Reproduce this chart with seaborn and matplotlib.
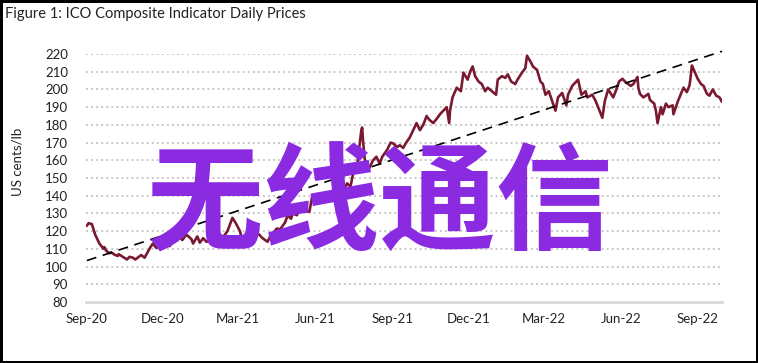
import numpy as np
import pandas as pd
import matplotlib
matplotlib.use("Agg")
import matplotlib.pyplot as plt
import matplotlib.dates as mdates
import seaborn as sns

# ---------------- data ----------------
dates = [
    "2020-09-01", "2020-09-03", "2020-09-07", "2020-09-09", "2020-09-11", "2020-09-14",
    "2020-09-16", "2020-09-21", "2020-09-22", "2020-09-24", "2020-09-28", "2020-09-30",
    "2020-10-05", "2020-10-08", "2020-10-09", "2020-10-14", "2020-10-19", "2020-10-22",
    "2020-10-26", "2020-10-29", "2020-11-02", "2020-11-05", "2020-11-09", "2020-11-13",
    "2020-11-16", "2020-11-19", "2020-11-23", "2020-11-27", "2020-12-02", "2020-12-07",
    "2020-12-09", "2020-12-14", "2020-12-17", "2020-12-21", "2020-12-24", "2020-12-29",
    "2021-01-04", "2021-01-06", "2021-01-11", "2021-01-14", "2021-01-18", "2021-01-22",
    "2021-01-27", "2021-02-01", "2021-02-05", "2021-02-10", "2021-02-16", "2021-02-22",
    "2021-02-26", "2021-03-03", "2021-03-05", "2021-03-10", "2021-03-15", "2021-03-19",
    "2021-03-23", "2021-03-26", "2021-03-30", "2021-04-05", "2021-04-08", "2021-04-12",
    "2021-04-16", "2021-04-20", "2021-04-26", "2021-04-29", "2021-05-03", "2021-05-05",
    "2021-05-10", "2021-05-13", "2021-05-17", "2021-05-21", "2021-05-25", "2021-05-28",
    "2021-06-03", "2021-06-07", "2021-06-11", "2021-06-15", "2021-06-18", "2021-06-22",
    "2021-06-28", "2021-06-30", "2021-07-05", "2021-07-09", "2021-07-13", "2021-07-16",
    "2021-07-21", "2021-07-23", "2021-07-26", "2021-07-27", "2021-07-28", "2021-07-30",
    "2021-08-02", "2021-08-05", "2021-08-09", "2021-08-13", "2021-08-17", "2021-08-20",
    "2021-08-26", "2021-08-30", "2021-09-02", "2021-09-07", "2021-09-10", "2021-09-14",
    "2021-09-17", "2021-09-22", "2021-09-24", "2021-09-30", "2021-10-04", "2021-10-08",
    "2021-10-12", "2021-10-15", "2021-10-20", "2021-10-25", "2021-10-28", "2021-11-01",
    "2021-11-05", "2021-11-08", "2021-11-09", "2021-11-12", "2021-11-17", "2021-11-22",
    "2021-11-25", "2021-11-30", "2021-12-03", "2021-12-06", "2021-12-09", "2021-12-13",
    "2021-12-17", "2021-12-21", "2021-12-24", "2021-12-29", "2022-01-03", "2022-01-05",
    "2022-01-10", "2022-01-14", "2022-01-17", "2022-01-21", "2022-01-26", "2022-01-28",
    "2022-02-03", "2022-02-07", "2022-02-09", "2022-02-14", "2022-02-16", "2022-02-21",
    "2022-02-25", "2022-02-28", "2022-03-03", "2022-03-07", "2022-03-11", "2022-03-15",
    "2022-03-18", "2022-03-23", "2022-03-28", "2022-03-30", "2022-04-04", "2022-04-08",
    "2022-04-11", "2022-04-15", "2022-04-20", "2022-04-22", "2022-04-28", "2022-05-02",
    "2022-05-05", "2022-05-10", "2022-05-13", "2022-05-17", "2022-05-23", "2022-05-26",
    "2022-05-30", "2022-06-03", "2022-06-07", "2022-06-10", "2022-06-13", "2022-06-16",
    "2022-06-21", "2022-06-22", "2022-06-24", "2022-06-28", "2022-07-04", "2022-07-06",
    "2022-07-11", "2022-07-13", "2022-07-15", "2022-07-19", "2022-07-21", "2022-07-25",
    "2022-07-28", "2022-08-02", "2022-08-03", "2022-08-08", "2022-08-11", "2022-08-15",
    "2022-08-19", "2022-08-22", "2022-08-23", "2022-08-25", "2022-08-26", "2022-09-01",
    "2022-09-05", "2022-09-08", "2022-09-12", "2022-09-15", "2022-09-19", "2022-09-23",
    "2022-09-27", "2022-09-30",
]
prices = [
    123.0, 124.5, 124.0, 121.0, 118.0, 115.0,
    113.0, 110.0, 111.0, 109.0, 107.5, 108.0,
    106.5, 106.0, 107.0, 105.5, 104.0, 105.5,
    105.0, 104.0, 105.5, 106.5, 105.0, 108.5,
    111.0, 113.0, 110.5, 112.0, 111.5, 112.0,
    111.5, 116.0, 115.5, 117.0, 115.0, 118.0,
    115.5, 113.0, 117.0, 113.5, 116.0, 114.0,
    114.5, 113.0, 115.0, 116.0, 120.0, 127.5,
    124.5, 120.0, 116.0, 115.0, 114.0, 116.0,
    119.0, 118.0, 116.0, 114.0, 117.0, 119.0,
    121.5, 121.0, 125.0, 129.0, 127.0, 130.0,
    129.0, 132.0, 134.0, 131.0, 131.0, 139.0,
    137.0, 136.0, 139.0, 139.0, 137.0, 138.0,
    140.0, 141.0, 143.0, 147.0, 145.0, 152.0,
    157.0, 165.0, 177.0, 178.5, 171.0, 161.0,
    154.5, 156.0, 160.0, 162.0, 158.0, 162.0,
    166.0, 170.0, 169.5, 167.5, 168.5, 167.0,
    169.5, 173.0, 175.0, 181.0, 177.0, 180.0,
    185.0, 183.0, 181.0, 184.0, 186.0, 188.0,
    190.0, 181.0, 188.0, 195.5, 201.0, 199.0,
    209.5, 205.5, 210.0, 213.0, 207.5, 204.5,
    203.0, 199.0, 201.0, 199.0, 197.0, 205.5,
    207.5, 206.5, 208.5, 204.5, 203.0, 205.0,
    209.5, 212.0, 219.0, 215.0, 213.0, 211.0,
    204.5, 203.0, 197.0, 199.0, 193.5, 188.0,
    195.5, 198.0, 191.0, 197.0, 202.0, 204.0,
    205.5, 197.0, 199.0, 195.5, 197.0, 193.5,
    190.0, 184.0, 193.5, 200.0, 195.5, 199.0,
    204.5, 206.0, 204.0, 203.0, 202.0, 203.0,
    207.0, 201.0, 197.5, 195.5, 197.5, 194.0,
    192.0, 188.0, 181.0, 190.0, 186.0, 192.0,
    190.0, 191.0, 186.0, 193.0, 196.5, 201.0,
    198.5, 202.0, 205.0, 213.5, 212.5, 206.0,
    203.0, 202.0, 197.5, 196.5, 200.0, 196.5,
    195.5, 193.0,
]
tick_dates = ["2020-09-01", "2020-12-01", "2021-03-01", "2021-06-01", "2021-09-01",
              "2021-12-01", "2022-03-01", "2022-06-01", "2022-09-01"]
y_ticks = [80, 90, 100, 110, 120, 130, 140, 150, 160, 170, 180, 190, 200, 210, 220]
title = "Figure 1: ICO Composite Indicator Daily Prices"
y_label = "US cents/lb"
overlay = "无线通信"

# ---------------- style ----------------
sns.set_style("white")
plt.rcParams["font.family"] = ["Lato", "DejaVu Sans"]

df = pd.DataFrame({"date": pd.to_datetime(dates), "price": prices})

fig = plt.figure(figsize=(7.58, 3.63), dpi=100, facecolor="white",
                 edgecolor="black", linewidth=2.5)
W, H = 758, 363
ax = fig.add_axes([86 / W, 1 - 302 / H, (722 - 86) / W, (302 - 54) / H])

# gridlines
for v in y_ticks[1:]:
    ax.axhline(v, color="#C8C8C8", lw=1.4, ls=(0, (1, 1.6)), zorder=1)

sns.lineplot(data=df, x="date", y="price", ax=ax, color="#7A1A30", lw=1.9, zorder=3)

# linear trend fitted to the data
xn = mdates.date2num(df["date"])
slope, intercept = np.polyfit(xn, df["price"].values, 1)
x0 = mdates.date2num(pd.Timestamp("2020-09-01"))
x1 = mdates.date2num(pd.Timestamp("2022-09-30"))
xs = np.array([x0, x1])
ax.plot(xs, slope * xs + intercept, color="black", lw=1.2, ls=(0, (6, 4)),
        zorder=4, clip_on=False)

ax.set_xlim(mdates.date2num(pd.Timestamp("2020-08-31")), x1)
ax.set_ylim(80, 220)
ax.set_yticks(y_ticks)
ax.set_yticklabels([str(v) for v in y_ticks])
ax.set_xticks(mdates.date2num(pd.to_datetime(tick_dates)))
ax.set_xticklabels([pd.Timestamp(d).strftime("%b-%y") for d in tick_dates])
ax.tick_params(axis="both", length=0, labelsize=9.5, colors="#222222")
ax.tick_params(axis="y", pad=13)
ax.tick_params(axis="x", pad=8)
ax.set_xlabel("")
ax.set_ylabel("")

for s in ["top", "right", "left"]:
    ax.spines[s].set_visible(False)
ax.spines["bottom"].set_color("#D9D9D9")
ax.spines["bottom"].set_linewidth(2)

fig.text(5 / W, 1 - 14 / H, title, ha="left", va="center", fontsize=10.5, color="#222222")
fig.text(17 / W, 1 - 162 / H, y_label, ha="center", va="center", rotation=90,
         fontsize=9.5, color="#222222")

fig.text(380 / W, 1 - 208 / H, overlay, ha="center", va="center", fontsize=84,
         color="#8A2BE2", fontweight="bold", family=["Noto Sans CJK SC", "DejaVu Sans"],
         zorder=10)

fig.savefig("out.png", dpi=100, facecolor="white", edgecolor="black")
